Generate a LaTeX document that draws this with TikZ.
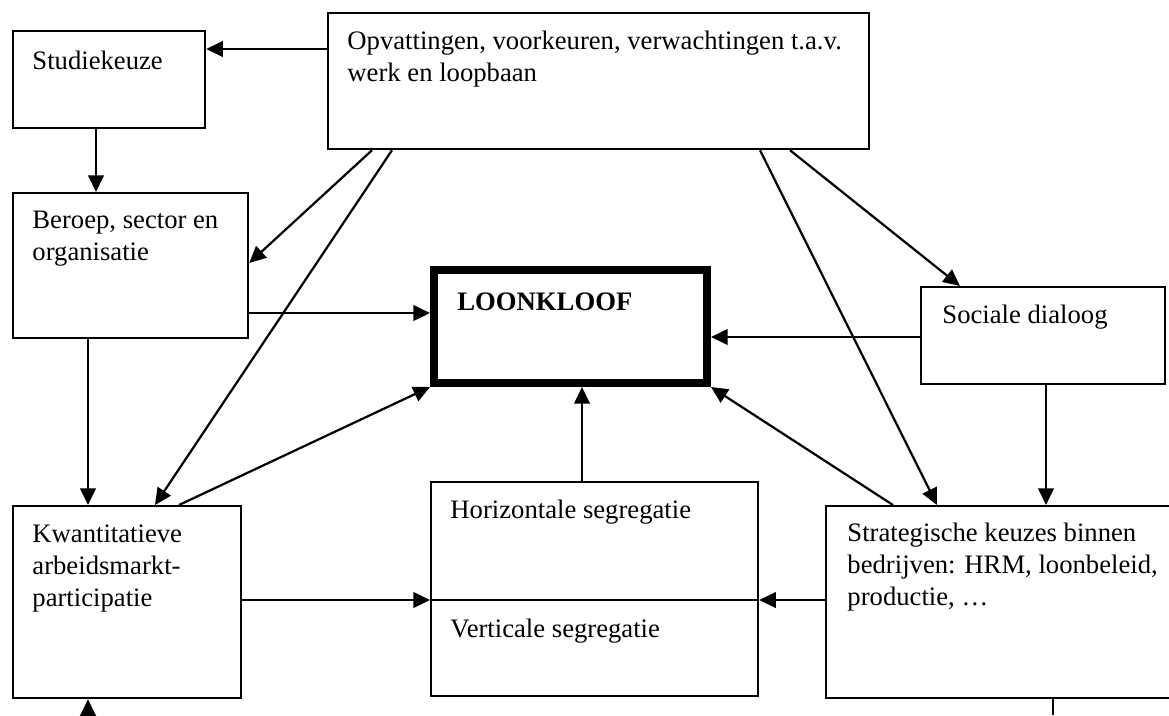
\documentclass[tikz,border=0pt]{standalone}
\usepackage{fontspec}
\setmainfont{Liberation Serif}
\usepackage{tikz}
\usetikzlibrary{arrows.meta,calc,positioning}

\begin{document}
\begin{tikzpicture}[x=0.45pt,y=-0.45pt,>={Triangle[length=7.5pt,width=7pt]},
  box/.style={draw,line width=1pt,anchor=north west,inner sep=0pt},
  txt/.style={anchor=north west,align=left,inner sep=0pt,font=\fontsize{12}{14.4}\selectfont},
  arr/.style={->,line width=1pt}]
  \useasboundingbox (0,0) rectangle (1169,715);
  \clip (0,0) rectangle (1169,715);
  % boxes
  \node[box,minimum width=86.4pt,minimum height=43.65pt] (stud) at (12,30) {};
  \node[box,minimum width=243.45pt,minimum height=61.2pt] (opv) at (327,12) {};
  \node[box,minimum width=105.75pt,minimum height=65.25pt] (beroep) at (12,192) {};
  \node[box,line width=3.6pt,minimum width=122.85pt,minimum height=50.85pt] (loon) at (430,266) {};
  \node[box,minimum width=109.8pt,minimum height=43.65pt] (soc) at (920,286) {};
  \node[box,minimum width=102.6pt,minimum height=86.4pt] (kwant) at (12,505) {};
  \node[box,minimum width=147.15pt,minimum height=96.3pt] (horiz) at (430,481) {};
  \node[box,minimum width=159.75pt,minimum height=86.4pt] (strat) at (825,505) {};
  \coordinate (div) at (430,600);
  \draw[line width=1pt] (div) -- (div -| horiz.east);
  % texts
  \node[txt] (studT) at ([shift={(20,21)}]stud.north west) {Studiekeuze};
  \node[txt] (opvT) at ([shift={(20,19)}]opv.north west) {Opvattingen, voorkeuren, verwachtingen t.a.v.\\werk en loopbaan};
  \node[txt] (beroepT) at ([shift={(20,19)}]beroep.north west) {Beroep, sector en\\organisatie};
  \node[txt,font=\fontsize{12}{14.4}\selectfont\bfseries] (loonT) at ([shift={(27,26)}]loon.north west) {LOONKLOOF};
  \node[txt] (socT) at ([shift={(22,19)}]soc.north west) {Sociale dialoog};
  \node[txt] (kwantT) at ([shift={(20,19)}]kwant.north west) {Kwantitatieve\\arbeidsmarkt-\\participatie};
  \node[txt] (horizT) at ([shift={(20,19)}]horiz.north west) {Horizontale segregatie};
  \node[txt] (vertT) at ([shift={(20,19)}]div) {Verticale segregatie};
  \node[txt] (stratT) at ([shift={(22,18)}]strat.north west) {Strategische keuzes binnen\\bedrijven: HRM, loonbeleid,\\productie, \dots};
  % connectors
  \draw[arr] (opv.west |- 0,49) -- (stud.east |- 0,49);
  \draw[arr] (stud.south -| 96,0) -- (beroep.north -| 96,0);
  \draw[arr] (opv.south -| 372,0) -- (beroep.east |- 0,263);
  \draw[arr] (opv.south -| 392,0) -- (kwant.north -| 155,0);
  \draw[arr] (beroep.east |- 0,313) -- (loon.west |- 0,313);
  \draw[arr] (beroep.south -| 88,0) -- (kwant.north -| 88,0);
  \draw[arr] (kwant.north -| 179,0) -- (loon.south west);
  \draw[arr] (horiz.north -| 582,0) -- (loon.south -| 582,0);
  \draw[arr] (strat.north -| 893,0) -- (loon.south east);
  \draw[arr] (soc.west |- 0,337) -- (loon.east |- 0,337);
  \draw[arr] (opv.south -| 790,0) -- (soc.north -| 960,0);
  \draw[arr] (opv.south -| 760,0) -- (strat.north -| 937,0);
  \draw[arr] (soc.south -| 1046,0) -- (strat.north -| 1046,0);
  \draw[arr] (kwant.east |- div) -- (div);
  \draw[arr] (strat.west |- div) -- (div -| horiz.east);
  \coordinate (inK) at (88,715);
  \draw[arr] (inK) -- (kwant.south -| inK);
  \coordinate (outS) at (1053,715);
  \draw[line width=1pt] (strat.south -| outS) -- (outS);
\end{tikzpicture}
\end{document}
